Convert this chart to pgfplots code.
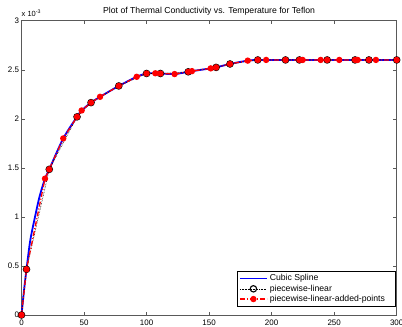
\documentclass[border=0pt]{standalone}
\usepackage{pgfplots}
\pgfplotsset{compat=1.18}
\usepackage{fontspec}
\setmainfont{Liberation Sans}
\begin{document}
\begin{tikzpicture}
\path[use as bounding box] (-21.5bp,-12bp) rectangle (380.5bp,315bp);
\begin{axis}[
  at={(0,0)}, anchor=south west,
  scale only axis, width=375.2bp, height=294.3bp,
  xmin=0, xmax=300, ymin=0, ymax=3,
  xtick={0,50,...,300}, ytick={0,0.5,...,3},
  scaled y ticks=false,
  /pgf/number format/assume math mode=true,
  tick label style={font=\fontsize{8}{9}\selectfont},
  yticklabel style={xshift=1bp},
  xticklabel style={yshift=-1bp},
  tick align=inside, major tick length=3.5bp,
  axis line style={black!65, line width=0.5bp},
  every tick/.style={black!65, line width=0.5bp},
  every axis title shift=0pt,
  title={Plot of Thermal Conductivity vs. Temperature for Teflon},
  title style={font=\fontsize{8.7}{10}\selectfont, at={(0.5,1)}, anchor=south, inner sep=0pt, yshift=5bp},
  clip=false,
  legend style={at={(rel axis cs:1,0)}, anchor=south east, xshift=-1bp, yshift=8.3bp,
    font=\fontsize{8.7}{10}\selectfont, draw=black, line width=0.5bp,
    inner sep=1.5bp, row sep=-1.5bp, cells={anchor=west}},
  legend cell align=left,
  legend image code/.code={\draw[mark repeat=2,mark phase=2,#1] plot coordinates {(0bp,0bp) (13.5bp,0bp) (27bp,0bp)};},
]
% cubic spline
\addplot[blue, line width=1.8bp, smooth, tension=0.5] coordinates {
(0,0) (2,0.25) (4,0.466) (7,0.76) (10.8,1.0) (14.5,1.21) (18.8,1.39) (22.2,1.485)
(33.4,1.80) (44.4,2.02) (48.1,2.085) (55.6,2.165) (62.8,2.224) (77.8,2.335)
(92.1,2.428) (100,2.462) (107,2.464) (111.1,2.462) (122.4,2.456) (133.3,2.479)
(136.3,2.486) (151.3,2.514) (155.6,2.524) (166.7,2.559) (180.9,2.593) (188.9,2.60)
(195.6,2.60) (211.1,2.60) (222.2,2.60) (224.8,2.60) (239.2,2.60) (244.4,2.60)
(254.1,2.60) (266.7,2.60) (268.8,2.60) (277.8,2.60) (283.4,2.60) (300,2.60)
};
\addlegendentry{Cubic Spline}
% piecewise-linear (original data)
\addplot[black, densely dotted, line width=0.6bp, mark=o, mark size=3.2bp,
  mark options={solid, line width=1.1bp}] coordinates {
(0,0) (4,0.466) (22.2,1.485) (44.4,2.02) (55.6,2.165) (77.8,2.335) (100,2.462)
(111.1,2.462) (133.3,2.479) (155.6,2.524) (166.7,2.559) (188.9,2.60) (211.1,2.60)
(222.2,2.60) (244.4,2.60) (266.7,2.60) (277.8,2.60) (300,2.60)
};
\addlegendentry{piecewise-linear}
% piecewise-linear with added points
\addplot[red, dash pattern=on 5bp off 2bp on 1bp off 2bp, line width=1.3bp,
  mark=*, mark size=2.5bp, mark options={solid, fill=red, draw=red}] coordinates {
(0,0) (4,0.466) (18.8,1.39) (22.2,1.485) (33.4,1.80) (44.4,2.02) (48.1,2.085)
(55.6,2.165) (62.8,2.224) (77.8,2.335) (92.1,2.428) (100,2.462) (107,2.464)
(111.1,2.462) (122.4,2.456) (133.3,2.479) (136.3,2.486) (151.3,2.514) (155.6,2.524)
(166.7,2.559) (180.9,2.593) (188.9,2.60) (195.6,2.60) (211.1,2.60) (222.2,2.60)
(224.8,2.60) (239.2,2.60) (244.4,2.60) (254.1,2.60) (266.7,2.60) (268.8,2.60)
(277.8,2.60) (283.4,2.60) (300,2.60)
};
\addlegendentry{piecewise-linear-added-points\hspace*{7bp}}
\node[anchor=south west, inner sep=0pt, font=\fontsize{7.5}{8}\selectfont] at (rel axis cs:0,1) [yshift=3.5bp] {x 10\textsuperscript{-3}};
\end{axis}
\end{tikzpicture}
\end{document}
